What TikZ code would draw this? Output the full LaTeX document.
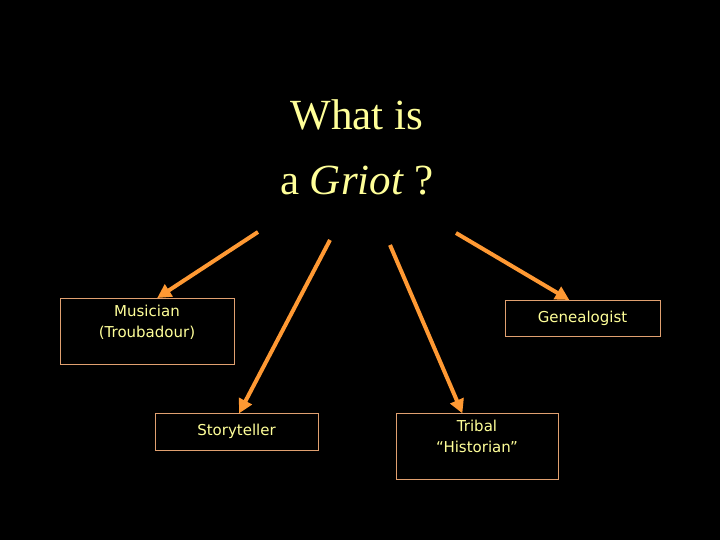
\documentclass[tikz,border=0pt]{standalone}
\usepackage{fontspec}
\setmainfont{Liberation Serif}
\newfontfamily\boxfont{DejaVu Sans}
\usetikzlibrary{arrows.meta,calc}
\definecolor{ttl}{HTML}{FFFF99}
\definecolor{arr}{HTML}{FF9933}
\definecolor{bord}{HTML}{E0A070}
\tikzset{
  role/.style={draw=bord, line width=1pt, fill=black, text=ttl, font=\boxfont\fontsize{15}{21}\selectfont, align=center, inner sep=0pt},
  arrowline/.style={draw=arr, line width=4pt, -{Triangle[length=14pt,width=14pt]}, shorten >=-1pt}
}
\begin{document}
\begin{tikzpicture}[x=1pt,y=-1pt]
\fill[black] (0,0) rectangle (720,540);
\useasboundingbox (0,0) rectangle (720,540);
\node[text=ttl, font=\fontsize{43}{50}\selectfont] (t1) at (357,115) {What is};
\node[text=ttl, font=\fontsize{43}{50}\selectfont] (t2) at (357,181) {a \textit{Griot} ?};
\node[role, minimum width=174pt, minimum height=66pt, text depth=20pt] (mus) at (147,331) {Musician\\(Troubadour)};
\node[role, minimum width=155pt, minimum height=36pt] (gen) at (582.5,318) {Genealogist};
\node[role, minimum width=163pt, minimum height=37pt] (sto) at (236.5,431.5) {Storyteller};
\node[role, minimum width=162pt, minimum height=66pt, text depth=20pt] (tri) at (477,446) {Tribal\\“Historian”};
\coordinate (s1) at (258,232);
\coordinate (s2) at (330,240);
\coordinate (s3) at (390,245);
\coordinate (s4) at (456,233);
\draw[arrowline] (s1) -- ($(mus.north)+(11,0)$);
\draw[arrowline] (s2) -- ($(sto.north)+(3,0)$);
\draw[arrowline] (s3) -- ($(tri.north)+(-15,0)$);
\draw[arrowline] (s4) -- ($(gen.north)+(-14,0)$);
\end{tikzpicture}
\end{document}
